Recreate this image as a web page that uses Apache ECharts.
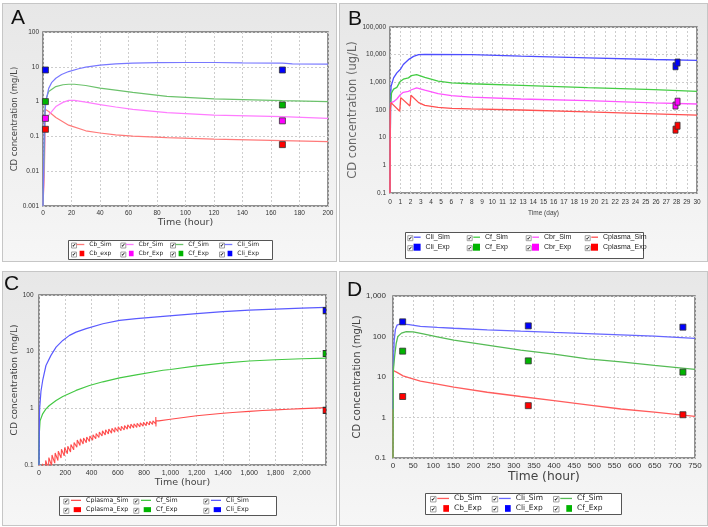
<!DOCTYPE html>
<html><head><meta charset="utf-8">
<script src="https://cdn.jsdelivr.net/npm/echarts@6/dist/echarts.min.js"></script>
<style>
html,body{margin:0;padding:0;background:#fff;}
#wrap{position:relative;width:708px;height:527px;overflow:hidden;}
.panel{position:absolute;background:linear-gradient(#e7e7e7,#f6f6f6);border:1px solid #c6c6c6;box-sizing:border-box;}
#chart{position:absolute;left:0;top:0;width:708px;height:527px;}
</style></head><body>
<div id="wrap">
<div class="panel" style="left:2px;top:3px;width:335px;height:259px"></div>
<div class="panel" style="left:339px;top:3px;width:369px;height:259px"></div>
<div class="panel" style="left:2px;top:271px;width:335px;height:255px"></div>
<div class="panel" style="left:339px;top:271px;width:369px;height:255px"></div>
<div id="chart"></div>
</div>
<script>
// ---------- Panel A (hours) ----------
const aCbSim  = [[0,0.001],[1,0.01],[1.5,0.6],[2,0.62],[4,0.52],[9,0.35],[18,0.21],[30,0.145],[40,0.125],[51,0.11],[63,0.102],[87,0.092],[120,0.083],[168,0.076],[200,0.071]];
const aCbrSim = [[0,0.001],[1,0.02],[1.5,0.3],[4,0.41],[9,0.72],[14,0.95],[18,1.08],[22,1.08],[30,0.97],[40,0.82],[51,0.7],[63,0.6],[87,0.48],[120,0.41],[168,0.37],[200,0.33]];
const aCfSim  = [[0,0.001],[1,0.05],[1.5,1.0],[2,1.1],[4,1.95],[9,2.7],[14,3.05],[18,3.15],[22,3.15],[30,2.9],[40,2.45],[51,2.15],[63,1.85],[87,1.42],[120,1.2],[168,1.07],[200,1.0]];
const aCliSim = [[0,0.001],[0.5,0.02],[1,0.3],[2,1.0],[4,2.4],[6,3.5],[9,4.7],[13,6.0],[18,7.3],[25,8.8],[30,9.8],[40,11.2],[51,12.2],[63,12.8],[80,13.1],[100,13.3],[120,13.3],[140,13.0],[168,12.8],[175,12.2],[200,12]];
const aExpTime = [1.7, 168];
const aCbExp  = [0.16, 0.058];
const aCbrExp = [0.33, 0.28];
const aCfExp  = [1.0, 0.8];
const aCliExp = [8.1, 8.1];

// ---------- Panel B (days, ug/L) ----------
const bCliSim = [[0,0.1],[0.05,100],[0.1,700],[0.35,1450],[0.67,2200],[1.0,2900],[1.3,4400],[1.8,6600],[2.3,8700],[2.8,10000],[3.4,10300],[8,10000],[12.8,8900],[19.3,7700],[25.8,6700],[30,6200]];
const bCfSim  = [[0,0.1],[0.05,135],[0.15,410],[0.35,570],[0.67,660],[1.0,1080],[1.3,1300],[1.8,1450],[2.1,1750],[2.6,1900],[3.4,1500],[4.7,1100],[6,960],[7.9,890],[12.8,780],[19.3,640],[25.8,545],[30,470]];
const bCbrSim = [[0,0.1],[0.05,180],[0.35,200],[0.67,250],[1.0,355],[1.3,435],[1.8,470],[2.1,540],[2.6,630],[3.4,520],[4.7,390],[6,330],[7.9,290],[12.8,250],[19.3,220],[25.8,180],[30,165]];
const bCplasmaSim = [[0,0.1],[0.02,100],[0.1,185],[0.95,90],[1.05,280],[1.95,140],[2.05,340],[2.8,185],[3.4,148],[4.7,125],[6,115],[7.9,110],[12.8,100],[19.3,86],[25.8,73],[30,65]];
const bCliExp = [[27.9,3800],[28.1,5200]];
const bCfExp  = [];
const bCbrExp = [[27.9,145],[28.1,200]];
const bCplasmaExp = [[27.9,19.5],[28.1,27]];

// ---------- Panel C (hours) ----------
const cCplasmaSim = [[0,0.02],[3,0.1],[24,0.06],[27,0.105],[48,0.072],[51,0.12],[72,0.085],[75,0.135],[96,0.097],[99,0.15],
 [120,0.108],[123,0.163],[144,0.12],[147,0.176],[168,0.133],[171,0.19],[192,0.145],[195,0.203],[216,0.158],[219,0.215],
 [240,0.17],[243,0.23],[264,0.185],[267,0.25],[288,0.205],[291,0.275],[312,0.222],[315,0.29],[336,0.235],[339,0.3],
 [360,0.248],[363,0.312],[384,0.26],[387,0.325],[408,0.275],[411,0.34],[432,0.29],[435,0.36],[456,0.305],[459,0.38],
 [480,0.325],[483,0.4],[504,0.34],[507,0.42],[528,0.352],[531,0.432],[552,0.365],[555,0.445],[576,0.378],[579,0.458],
 [600,0.39],[603,0.47],[624,0.402],[627,0.482],[648,0.415],[651,0.495],[672,0.43],[675,0.51],[696,0.442],[699,0.525],
 [720,0.452],[723,0.535],[744,0.462],[747,0.545],[768,0.472],[771,0.555],[792,0.485],[795,0.565],[816,0.495],[819,0.575],
 [840,0.508],[843,0.588],[864,0.52],[867,0.6],[888,0.53],[889,0.7],[890,0.48],[891,0.6],
 [912,0.6],[1000,0.64],[1100,0.69],[1200,0.74],[1300,0.78],[1400,0.82],[1500,0.855],[1600,0.885],[1700,0.915],[1800,0.94],[1900,0.965],[2000,0.99],[2100,1.01],[2184,1.03]];
const cCfSim  = [[0,0.1],[2,0.35],[8,0.6],[28,0.8],[53,0.98],[79,1.12],[130,1.37],[181,1.62],[282,2.07],[384,2.53],[486,2.94],[613,3.45],[740,3.9],[944,4.7],[1000,4.85],[1200,5.6],[1400,6.3],[1600,6.85],[1800,7.2],[2000,7.5],[2184,7.7]];
const cCliSim = [[0,0.1],[3,0.6],[5,1.0],[15,2.0],[28,3.1],[53,5.7],[91,8.6],[130,12],[181,15.8],[232,19.4],[282,22.1],[359,25.5],[486,31.1],[613,35.6],[740,38.3],[944,42],[1200,47],[1400,50.7],[1600,54.2],[1800,56.5],[2000,58.9],[2184,60.5]];
const cExpTime = [2184];
const cCplasmaExp = [0.92];
const cCfExp  = [9.3];
const cCliExp = [53];

// ---------- Panel D (hours) ----------
const dCbSim  = [[0,0.1],[1,14.5],[5,14.5],[10,13],[25,10.7],[41,9.5],[68,7.9],[100,7.0],[151,5.6],[234,4.2],[317,3.3],[400,2.6],[483,2.05],[566,1.62],[649,1.35],[750,1.07]];
const dCliSim = [[0,1.6],[1,20],[3,80],[6,150],[10,190],[15,200],[22,203],[40,196],[68,178],[110,168],[151,160],[234,146],[317,135],[400,126],[483,118],[566,110],[649,102],[750,90]];
const dCfSim  = [[0,0.1],[1,15],[4,32],[8,68],[12,100],[21,121],[33,132],[50,130],[75,116],[110,98],[151,81],[234,61],[317,46],[400,36.5],[483,28],[566,23.5],[649,19.4],[750,15.5]];
const dExpTime = [24, 336, 720];
const dCbExp  = [3.3, 1.96, 1.17];
const dCliExp = [230, 183, 170];
const dCfExp  = [43.5, 25, 13.2];

// ---------- tick labels / titles ----------
const panelLetters = ['A','B','C','D'];
const yTitles = ['CD concentration (mg/L)','CD concentration (ug/L)','CD concentration (mg/L)','CD concentration (mg/L)'];
const xTitles = ['Time (hour)','Time (day)','Time (hour)','Time (hour)'];

const zip = (t, v) => t.map((x, i) => [x, v[i]]);

const chart = echarts.init(document.getElementById('chart'), null, {renderer:'canvas'});

const LS = 'Liberation Sans';
const LSN = '"Liberation Sans Narrow", "Liberation Sans"';
const DV = '"DejaVu Sans"';

function logFmt(v){
  const n = Number(Number(v).toPrecision(6));
  return n >= 1000 ? n.toLocaleString('en-US') : String(n);
}

const grids = [
  {left:43, top:32, width:285, height:174},
  {left:390, top:27, width:307, height:166},
  {left:39, top:295, width:287, height:170},
  {left:393, top:296, width:302, height:162}
].map(g => Object.assign(g, {show:true, backgroundColor:'#fff', borderColor:'#6e6e6e', borderWidth:1.5, containLabel:false}));

const splitLine = {show:true, lineStyle:{color:'#cdcdcd', type:[2,2], width:1}};

const xCfg = [
  {min:0, max:200, interval:20, fs:6.5, ff:LS, margin:4, nfs:9.5, nff:DV, ngap:11.5, fmt:v=>String(v)},
  {min:0, max:30, interval:1, fs:6.5, ff:LSN, margin:6, nfs:6.5, nff:LS, ngap:17, fmt:v=>String(v)},
  {min:0, max:2184, interval:200, fs:7, ff:LS, margin:5, nfs:9.5, nff:DV, ngap:11, fmt:v=> (v % 200 === 0 ? Number(v).toLocaleString('en-US') : '')},
  {min:0, max:750, interval:50, fs:8, ff:LS, margin:4, nfs:12.3, nff:DV, ngap:11.5, fmt:v=>String(v)}
];
const yCfg = [
  {min:0.001, max:100, split:5, fs:6.5, ff:LS, margin:4, nfs:8.5, nff:DV, ngap:21, ncol:'#444'},
  {min:0.1, max:100000, split:6, fs:6.5, ff:LSN, margin:4, nfs:11.5, nff:DV, ngap:28, ncol:'#666'},
  {min:0.1, max:100, split:3, fs:6.5, ff:LS, margin:5.5, nfs:9, nff:DV, ngap:18, ncol:'#444'},
  {min:0.1, max:1000, split:4, fs:8, ff:LS, margin:7, nfs:10, nff:DV, ngap:29, ncol:'#444'}
];

const xAxis = xCfg.map((c,i) => ({
  type:'value', gridIndex:i, min:c.min, max:c.max, interval:c.interval,
  name:xTitles[i], nameLocation:'middle', nameGap:c.ngap,
  nameTextStyle:{fontSize:c.nfs, fontFamily:c.nff, color:'#444'},
  axisLine:{show:false}, axisTick:{show:false},
  axisLabel:{fontSize:c.fs, fontFamily:c.ff, color:'#333', margin:c.margin, formatter:c.fmt, hideOverlap:false, showMaxLabel:true},
  splitLine
}));
const yAxis = yCfg.map((c,i) => ({
  type:'log', logBase:10, gridIndex:i, min:c.min, max:c.max, splitNumber:c.split,
  name:yTitles[i], nameLocation:'middle', nameGap:c.ngap, nameRotate:90,
  nameTextStyle:{fontSize:c.nfs, fontFamily:c.nff, color:c.ncol},
  axisLine:{show:false}, axisTick:{show:false},
  axisLabel:{fontSize:c.fs, fontFamily:c.ff, color:'#333', margin:c.margin, formatter:logFmt, hideOverlap:false},
  splitLine
}));

const series = [];
function simLine(panel, name, data, color, w){
  series.push({type:'line', name:panel+'|'+name, xAxisIndex:'ABCD'.indexOf(panel), yAxisIndex:'ABCD'.indexOf(panel),
    data, showSymbol:false, symbol:'none', clip:true, lineStyle:{color, width:w||1.2}, itemStyle:{color}, z:3});
}
function expPts(panel, name, data, color, size, offset){
  series.push({type:'scatter', name:panel+'|'+name, xAxisIndex:'ABCD'.indexOf(panel), yAxisIndex:'ABCD'.indexOf(panel),
    data, symbol:'rect', symbolSize:size, symbolOffset:offset||[0,0], clip:false,
    itemStyle:{color, borderColor:'#333', borderWidth:0.8, opacity:1}, z:5});
}
// A
simLine('A','Cb_Sim', aCbSim, '#ff7a7a');
simLine('A','Cbr_Sim', aCbrSim, '#ff7cff');
simLine('A','Cf_Sim', aCfSim, '#6cc26c');
simLine('A','Cli_Sim', aCliSim, '#7878ff');
expPts('A','Cb_exp', zip(aExpTime,aCbExp), '#ff0000', 6);
expPts('A','Cbr_Exp', zip(aExpTime,aCbrExp), '#ff00ff', 6);
expPts('A','Cf_Exp', zip(aExpTime,aCfExp), '#00b400', 6);
expPts('A','Cli_Exp', zip(aExpTime,aCliExp), '#0000ff', 6);
// B
simLine('B','Cli_Sim', bCliSim, '#4d4dff', 1.3);
simLine('B','Cf_Sim', bCfSim, '#44cc44', 1.3);
simLine('B','Cbr_Sim', bCbrSim, '#ff55ff', 1.3);
simLine('B','Cplasma_Sim', bCplasmaSim, '#ff5050', 1.3);
expPts('B','Cli_Exp', bCliExp, '#0000ff', [5,7]);
expPts('B','Cf_Exp', bCfExp, '#00b400', [5,7]);
expPts('B','Cbr_Exp', bCbrExp, '#ff00ff', [5,7]);
expPts('B','Cplasma_Exp', bCplasmaExp, '#ff0000', [5,7]);
// C
simLine('C','Cplasma_Sim', cCplasmaSim, '#ff4d4d', 1.1);
simLine('C','Cf_Sim', cCfSim, '#44c844', 1.2);
simLine('C','Cli_Sim', cCliSim, '#5a5aff', 1.2);
expPts('C','Cplasma_Exp', zip(cExpTime,cCplasmaExp), '#ff0000', [3,6], [-1.5,0]);
expPts('C','Cf_Exp', zip(cExpTime,cCfExp), '#00b400', [3,6], [-1.5,0]);
expPts('C','Cli_Exp', zip(cExpTime,cCliExp), '#0000ff', [3,6], [-1.5,0]);
// D
simLine('D','Cb_Sim', dCbSim, '#ff5c5c', 1.3);
simLine('D','Cli_Sim', dCliSim, '#6666ff', 1.3);
simLine('D','Cf_Sim', dCfSim, '#55bb55', 1.3);
expPts('D','Cb_Exp', zip(dExpTime,dCbExp), '#ff0000', 6);
expPts('D','Cli_Exp', zip(dExpTime,dCliExp), '#0000ff', 6);
expPts('D','Cf_Exp', zip(dExpTime,dCfExp), '#00b400', 6);

// ---------- legends (one per item so the columns line up) ----------
const legendLayouts = [
  {p:'A', names:[['Cb_Sim','Cbr_Sim','Cf_Sim','Cli_Sim'],['Cb_exp','Cbr_Exp','Cf_Exp','Cli_Exp']],
   cols:[71,120.3,170,219], rows:[245,254], textOff:18.3, lineW:7.7, sqW:4.7, sqH:5.5, fs:6, ff:DV, cb:5, box:[68,240,204,19]},
  {p:'B', names:[['Cli_Sim','Cf_Sim','Cbr_Sim','Cplasma_Sim'],['Cli_Exp','Cf_Exp','Cbr_Exp','Cplasma_Exp']],
   cols:[407.3,466.7,525.7,584.7], rows:[237.7,247.7], textOff:18.3, lineW:6.7, sqW:7, sqH:7, fs:7, ff:LSN, cb:5, box:[405,232,238,26]},
  {p:'C', names:[['Cplasma_Sim','Cf_Sim','Cli_Sim'],['Cplasma_Exp','Cf_Exp','Cli_Exp']],
   cols:[63.3,133.3,203.3], rows:[501,510.3], textOff:22.7, lineW:10, sqW:7.3, sqH:5, fs:6.3, ff:DV, cb:5, box:[59,496,217,19]},
  {p:'D', names:[['Cb_Sim','Cli_Sim','Cf_Sim'],['Cb_Exp','Cli_Exp','Cf_Exp']],
   cols:[430,491.7,553], rows:[498.7,508.7], textOff:24, lineW:11.7, sqW:5.7, sqH:6.7, fs:7.5, ff:DV, cb:5.5, box:[425,493,196,21]}
];
const legend = [];
const graphic = [];
legendLayouts.forEach(L => {
  graphic.push({type:'rect', shape:{x:L.box[0]+0.5, y:L.box[1]+0.5, width:L.box[2], height:L.box[3]},
    style:{fill:'#fff', stroke:'#555', lineWidth:1}, z:0});
  L.names.forEach((row, r) => {
    row.forEach((nm, c) => {
      const isLine = r === 0;
      const iw = isLine ? L.lineW : L.sqW;
      const ih = isLine ? 1.3 : L.sqH;
      const th = L.fs + 1;
      legend.push({
        data:[{name:L.p+'|'+nm, icon:'rect'}], left:L.cols[c] + L.textOff - 5 - iw,
        top:L.rows[r] - Math.max(th, ih)/2, padding:0, itemWidth:iw, itemHeight:ih,
        itemStyle:{borderWidth:0}, formatter: n => n.split('|')[1],
        textStyle:{fontSize:L.fs, fontFamily:L.ff, color:'#222', padding:0}, z:6
      });
      graphic.push({type:'rect', shape:{x:L.cols[c]+0.5, y:L.rows[r]-L.cb/2+0.5, width:L.cb, height:L.cb},
        style:{fill:'#fff', stroke:'#8a8a8a', lineWidth:0.8}, z:1});
      graphic.push({type:'text', x:L.cols[c]+L.cb/2+0.6, y:L.rows[r]+0.6,
        style:{text:'\u2714', fontSize:L.cb, fontFamily:DV, fill:'#111', align:'center', verticalAlign:'middle'}, z:2});
    });
  });
});

const titlePos = [[11,8],[348,9],[4,274],[347,280]];
const title = panelLetters.map((t,i) => ({text:t, left:titlePos[i][0], top:titlePos[i][1], padding:0,
  textStyle:{fontSize:21, fontWeight:'normal', fontFamily:LS, color:'#111'}}));

chart.setOption({
  animation:false,
  backgroundColor:'transparent',
  title, grid:grids, xAxis, yAxis, series, legend, graphic
});
</script>
</body></html>
